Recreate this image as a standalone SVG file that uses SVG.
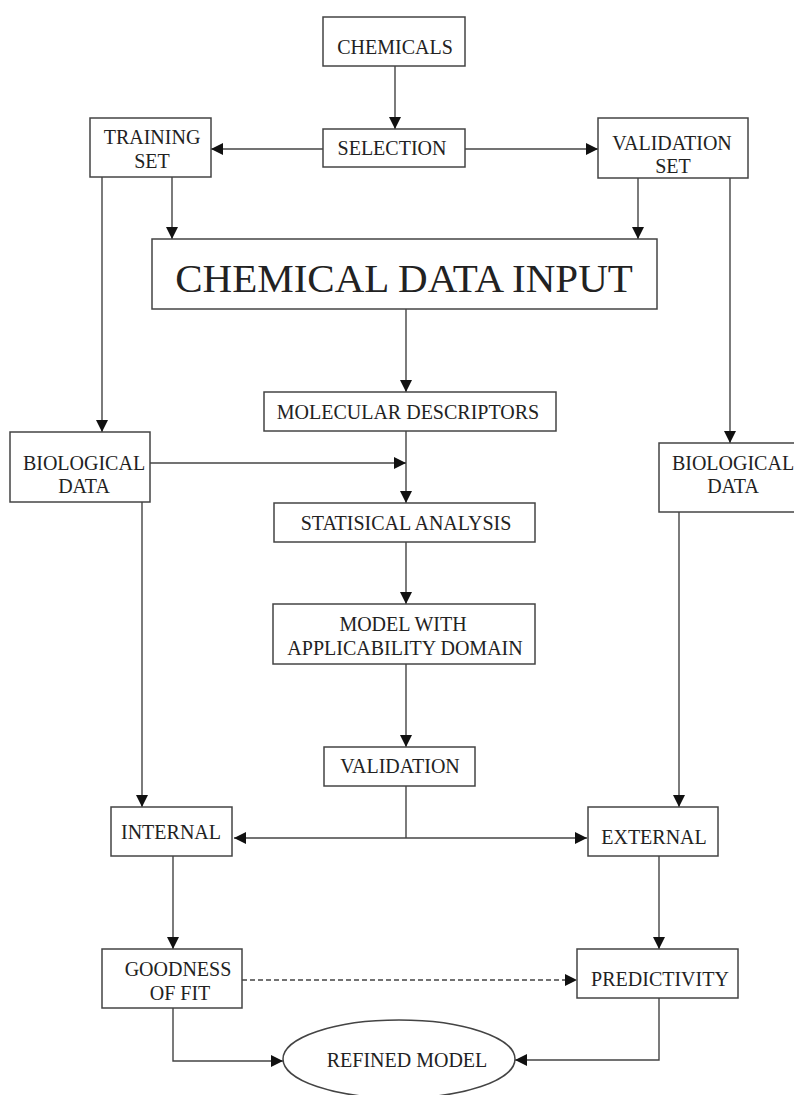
<svg xmlns="http://www.w3.org/2000/svg" width="794" height="1095" viewBox="0 0 794 1095">
<style>
.box{fill:#fff;stroke:#444;stroke-width:1.5}
.t{font-family:"Liberation Serif","Times New Roman",serif;font-size:20px;fill:#222;text-anchor:middle}
.big{font-size:41px}
.c{fill:none;stroke:#444;stroke-width:1.4}
.d{stroke-dasharray:5,3}
</style>
<defs>
<marker id="ah" markerUnits="userSpaceOnUse" markerWidth="13" markerHeight="13" refX="12" refY="6" orient="auto">
<path d="M0,0 L12,6 L0,12 z" fill="#111"/>
</marker>
</defs>
<rect width="794" height="1095" fill="#fff"/>
<g id="connectors">
<line class="c" x1="395" y1="66" x2="395" y2="129" marker-end="url(#ah)"/>
<line class="c" x1="323" y1="149" x2="211" y2="149" marker-end="url(#ah)"/>
<line class="c" x1="465" y1="149" x2="598" y2="149" marker-end="url(#ah)"/>
<line class="c" x1="172" y1="177" x2="172" y2="239" marker-end="url(#ah)"/>
<line class="c" x1="638" y1="178" x2="638" y2="239" marker-end="url(#ah)"/>
<line class="c" x1="102" y1="177" x2="102" y2="432" marker-end="url(#ah)"/>
<line class="c" x1="730" y1="178" x2="730" y2="443" marker-end="url(#ah)"/>
<line class="c" x1="406" y1="309" x2="406" y2="392" marker-end="url(#ah)"/>
<line class="c" x1="406" y1="431" x2="406" y2="503" marker-end="url(#ah)"/>
<line class="c" x1="150" y1="463" x2="406" y2="463" marker-end="url(#ah)"/>
<line class="c" x1="406" y1="542" x2="406" y2="604" marker-end="url(#ah)"/>
<line class="c" x1="406" y1="664" x2="406" y2="747" marker-end="url(#ah)"/>
<line class="c" x1="142" y1="502" x2="142" y2="807" marker-end="url(#ah)"/>
<line class="c" x1="679" y1="512" x2="679" y2="807" marker-end="url(#ah)"/>
<line class="c" x1="406" y1="786" x2="406" y2="838"/>
<line class="c" x1="406" y1="838" x2="234" y2="838" marker-end="url(#ah)"/>
<line class="c" x1="406" y1="838" x2="587" y2="838" marker-end="url(#ah)"/>
<line class="c" x1="173" y1="856" x2="173" y2="949" marker-end="url(#ah)"/>
<line class="c" x1="659" y1="856" x2="659" y2="949" marker-end="url(#ah)"/>
<line class="c d" x1="242" y1="980" x2="577" y2="980" marker-end="url(#ah)"/>
<polyline class="c" points="173,1008 173,1061 283,1061" marker-end="url(#ah)"/>
<polyline class="c" points="659,998 659,1060 515,1060" marker-end="url(#ah)"/>
</g>
<g id="chemicals"><rect class="box" x="323" y="17" width="142" height="49"/><text class="t" x="395" y="54">CHEMICALS</text></g>
<g id="selection"><rect class="box" x="323" y="129" width="142" height="38"/><text class="t" x="392" y="155">SELECTION</text></g>
<g id="training-set"><rect class="box" x="90" y="118" width="121" height="59"/><text class="t" x="152" y="144">TRAINING</text><text class="t" x="152" y="168">SET</text></g>
<g id="validation-set"><rect class="box" x="598" y="118" width="150" height="60"/><text class="t" x="672" y="150">VALIDATION</text><text class="t" x="673" y="173">SET</text></g>
<g id="chemical-data-input"><rect class="box" x="152" y="239" width="505" height="70"/><text class="t big" x="404" y="292">CHEMICAL DATA INPUT</text></g>
<g id="molecular-descriptors"><rect class="box" x="264" y="392" width="292" height="39"/><text class="t" x="408" y="419">MOLECULAR DESCRIPTORS</text></g>
<g id="biological-data-left"><rect class="box" x="10" y="432" width="140" height="70"/><text class="t" x="84" y="470">BIOLOGICAL</text><text class="t" x="84" y="493">DATA</text></g>
<g id="biological-data-right"><rect class="box" x="659" y="443" width="148" height="69"/><text class="t" x="733" y="470">BIOLOGICAL</text><text class="t" x="733" y="493">DATA</text></g>
<g id="statistical-analysis"><rect class="box" x="274" y="503" width="261" height="39"/><text class="t" x="406" y="530">STATISICAL ANALYSIS</text></g>
<g id="model"><rect class="box" x="273" y="604" width="262" height="60"/><text class="t" x="403" y="631">MODEL WITH</text><text class="t" x="405" y="655">APPLICABILITY DOMAIN</text></g>
<g id="validation"><rect class="box" x="324" y="747" width="151" height="39"/><text class="t" x="400" y="773">VALIDATION</text></g>
<g id="internal"><rect class="box" x="111" y="807" width="121" height="49"/><text class="t" x="171" y="839">INTERNAL</text></g>
<g id="external"><rect class="box" x="588" y="807" width="130" height="49"/><text class="t" x="654" y="844">EXTERNAL</text></g>
<g id="goodness-of-fit"><rect class="box" x="102" y="949" width="140" height="59"/><text class="t" x="178" y="976">GOODNESS</text><text class="t" x="180" y="1000">OF FIT</text></g>
<g id="predictivity"><rect class="box" x="577" y="949" width="161" height="49"/><text class="t" x="660" y="986">PREDICTIVITY</text></g>
<g id="refined-model"><ellipse class="box" cx="399" cy="1059" rx="116" ry="39"/><text class="t" x="407" y="1067">REFINED MODEL</text></g>
</svg>
